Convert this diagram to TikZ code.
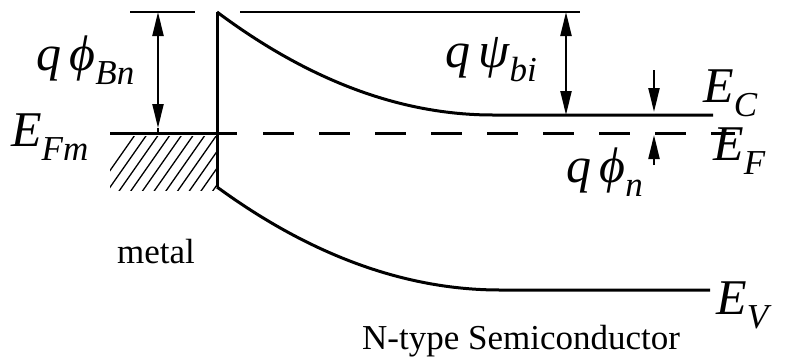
\documentclass[tikz,border=0pt]{standalone}
\usepackage{fontspec}
\setmainfont{Liberation Serif}
\usetikzlibrary{arrows.meta}
\newcommand\bandlbl[2]{{\fontsize{50}{50}\selectfont\itshape #1}\raisebox{-14pt}{\fontsize{35}{35}\selectfont\itshape #2}}
\tikzset{
  band/.style={line width=3pt},
  ref/.style={line width=2.2pt},
  dim/.style={line width=2.2pt,{Triangle[length=24pt,width=11pt]}-{Triangle[length=24pt,width=11pt]}},
  dimone/.style={line width=2.2pt,-{Triangle[length=24pt,width=11pt]}},
  lbl/.style={inner sep=0pt,anchor=base west},
  txt/.style={inner sep=0pt,anchor=base west,font=\fontsize{35}{35}\selectfont},
}
\begin{document}
\begin{tikzpicture}[x=1pt,y=-1pt]
\useasboundingbox (0,0) rectangle (794,362);
% coordinates
\coordinate (tl1) at (130,12);
\coordinate (tl2) at (195,12);
\coordinate (tr1) at (240,12);
\coordinate (tr2) at (580,12);
\coordinate (ifTop) at (217,12);
\coordinate (ifBot) at (217,187);
\coordinate (ecEnd) at (493,115);
\coordinate (ecR) at (713,115);
\coordinate (evEnd) at (500,290);
\coordinate (evR) at (710,290);
\coordinate (fmL) at (110,133);
\coordinate (fmR) at (237,133);
\coordinate (efL) at (263,133);
\coordinate (efR) at (735,133);
\coordinate (bnTop) at (158,12);
\coordinate (bnBot) at (158,128);
\coordinate (bnLine) at (158,133);
\coordinate (biTop) at (566,12);
\coordinate (biBot) at (566,115);
\coordinate (nTopS) at (654,70);
\coordinate (nTopT) at (654,112);
\coordinate (nBotS) at (654,165);
\coordinate (nBotT) at (654,135);
% hatching
\begin{scope}
\clip (110,136) rectangle (217,190);
\foreach \i in {0,...,14} \draw[line width=1.3pt] (95+\i*11.7,192) -- ++(42,-60);
\end{scope}
% reference lines
\draw[ref] (tl1) -- (tl2);
\draw[ref] (tr1) -- (tr2);
\draw[band] (fmL) -- (fmR);
\draw[band,dash pattern=on 31pt off 25pt] (efL) -- (efR);
% interface and bands
\draw[band] (ifTop) -- (ifBot);
\draw[band] (ifTop) .. controls (309,80.7) and (401,115) .. (ecEnd) -- (ecR);
\draw[band] (ifBot) .. controls (311,255.7) and (406,290) .. (evEnd) -- (evR);
% arrows
\draw[dim] (bnTop) -- (bnBot);
\draw[line width=2.2pt] (bnBot) -- (bnLine);
\draw[dim] (biTop) -- (biBot);
\draw[dimone] (nTopS) -- (nTopT);
\draw[dimone] (nBotS) -- (nBotT);
% labels
\node[lbl] (lBn) at (36,70) {\bandlbl{q\,ϕ}{Bn}};
\node[lbl] (lFm) at (11,146) {\bandlbl{E}{Fm}};
\node[lbl] (lbi) at (445,67) {\bandlbl{q\,ψ}{bi}};
\node[lbl] (lEC) at (703,102) {\bandlbl{E}{C}};
\node[lbl] (lEF) at (713,160) {\bandlbl{E}{F}};
\node[lbl] (ln) at (566,182) {\bandlbl{q\,ϕ}{n}};
\node[lbl] (lEV) at (716,314) {\bandlbl{E}{V}};
\node[txt] (metal) at (117,263) {metal};
\node[txt] (semi) at (362,349) {N-type Semiconductor};
\end{tikzpicture}
\end{document}
